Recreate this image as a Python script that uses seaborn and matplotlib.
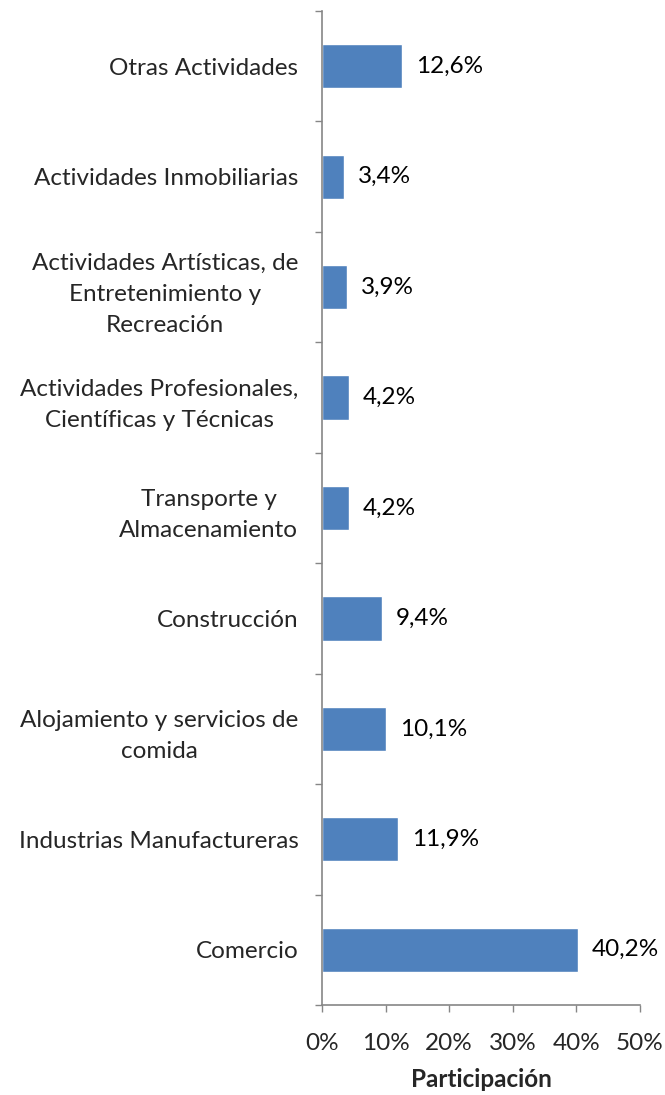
import pandas as pd
import seaborn as sns
import matplotlib.pyplot as plt

sectores = [
    'Otras Actividades',
    'Actividades Inmobiliarias',
    'Actividades Artísticas, de\nEntretenimiento y\nRecreación',
    'Actividades Profesionales,\nCientíficas y Técnicas',
    'Transporte y\nAlmacenamiento',
    'Construcción',
    'Alojamiento y servicios de\ncomida',
    'Industrias Manufactureras',
    'Comercio',
]
participacion = [12.6, 3.4, 3.9, 4.2, 4.2, 9.4, 10.1, 11.9, 40.2]
xticks = [0, 10, 20, 30, 40, 50]

df = pd.DataFrame({'Sector': sectores, 'Participacion': participacion})

sns.set_style('white')
plt.rcParams['font.family'] = ['Lato', 'DejaVu Sans']
fs = 17.5

fig, ax = plt.subplots(figsize=(6.65, 10.95), dpi=100)
fig.subplots_adjust(left=0.4842, right=0.9624, top=0.99, bottom=0.0822)

sns.barplot(data=df, x='Participacion', y='Sector', orient='h', color='#4F81BD',
            saturation=1, width=0.4, ax=ax)

labels = [f'{v:.1f}%'.replace('.', ',') for v in participacion]
ax.bar_label(ax.containers[0], labels=labels, padding=10, fontsize=fs, color='black')

ax.set_xlim(0, 50)
ax.set_ylim(8.5, -0.5)
ax.set_xticks(xticks)
ax.set_xticklabels([f'{t}%' for t in xticks], fontsize=fs)
ax.set_yticks([i - 0.5 for i in range(10)], minor=True)
ax.tick_params(axis='y', which='major', left=False, length=0, pad=17, labelsize=fs)
ax.tick_params(axis='y', which='minor', left=True, length=5, width=1, color='#868686',
               direction='out')
ax.tick_params(axis='x', which='major', bottom=True, length=5, width=1, color='#868686',
               direction='out', pad=15, labelsize=fs)
for lbl in ax.get_yticklabels():
    lbl.set_multialignment('center')
    lbl.set_linespacing(1.6)

for s in ['top', 'right']:
    ax.spines[s].set_visible(False)
for s in ['left', 'bottom']:
    ax.spines[s].set_color('#868686')
    ax.spines[s].set_linewidth(1.2)

ax.set_ylabel('')
ax.set_xlabel('Participación', fontsize=fs, fontweight='bold', labelpad=10)

plt.savefig('out.png', dpi=100)
